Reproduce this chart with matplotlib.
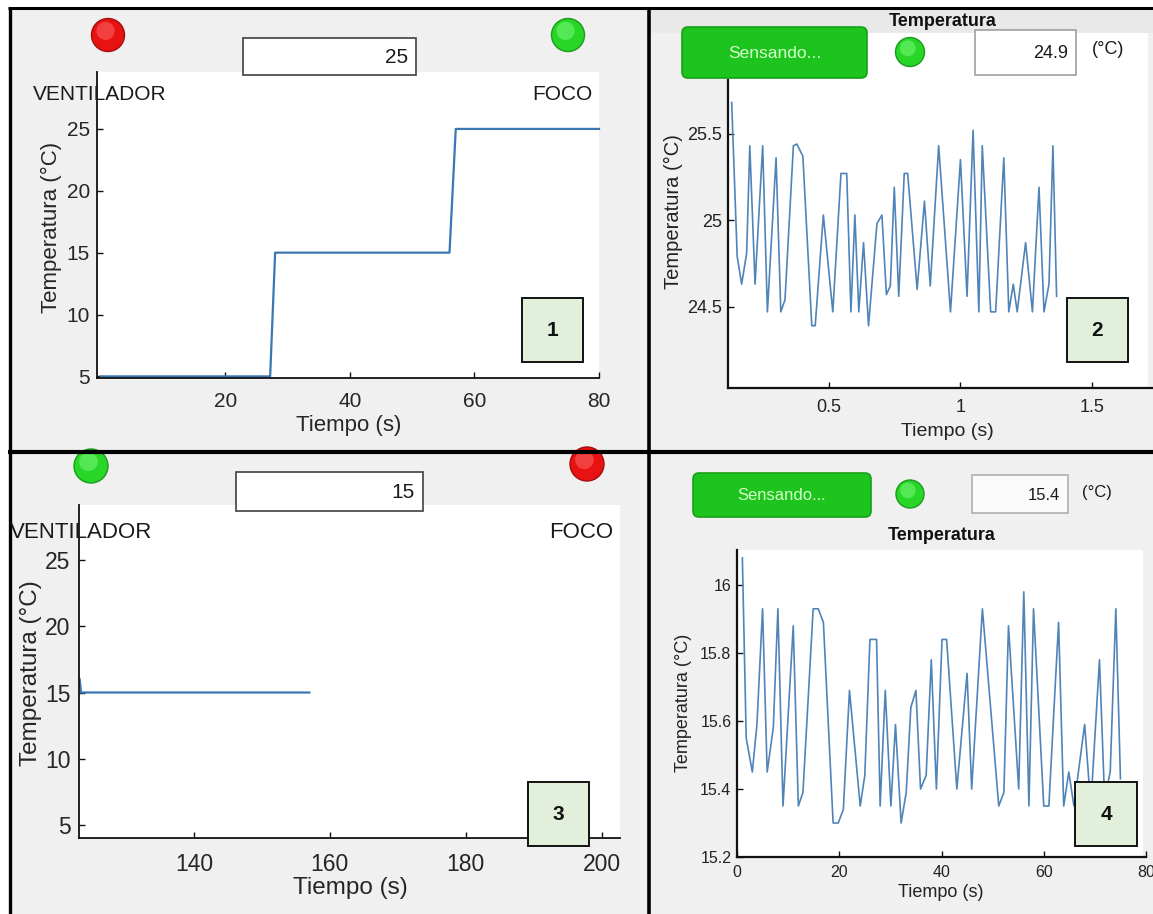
import matplotlib
matplotlib.use("Agg")
import matplotlib.pyplot as plt
from matplotlib.patches import Rectangle, Circle, FancyBboxPatch

plt.rcParams['font.family'] = ['Liberation Sans', 'DejaVu Sans']

# ---------------- data ----------------
# Panel 1: set-point response (VENTILADOR / FOCO)
time1 = [0, 27.2, 28.0, 56.0, 57.0, 80]
temp1 = [5, 5, 15, 15, 25, 25]
xticks1 = [20, 40, 60, 80]
yticks1 = [5, 10, 15, 20, 25]

# Panel 2: sensed temperature around 25 °C
time2 = [0.129, 0.150, 0.167, 0.186, 0.198, 0.218, 0.247, 0.265, 0.298, 0.316,
         0.332, 0.364, 0.377, 0.400, 0.434, 0.447, 0.478, 0.514, 0.545, 0.567,
         0.583, 0.598, 0.613, 0.631, 0.650, 0.682, 0.701, 0.718, 0.733, 0.748,
         0.765, 0.786, 0.799, 0.835, 0.863, 0.885, 0.917, 0.962, 1.000, 1.025,
         1.048, 1.070, 1.083, 1.115, 1.134, 1.165, 1.184, 1.201, 1.216, 1.248,
         1.274, 1.299, 1.318, 1.337, 1.352, 1.366]
temp2 = [25.68, 24.79, 24.63, 24.81, 25.43, 24.63, 25.43, 24.47, 25.36, 24.47,
         24.54, 25.43, 25.44, 25.37, 24.39, 24.39, 25.03, 24.47, 25.27, 25.27,
         24.47, 25.03, 24.47, 24.87, 24.39, 24.98, 25.03, 24.57, 24.62, 25.19,
         24.56, 25.27, 25.27, 24.60, 25.11, 24.62, 25.43, 24.47, 25.35, 24.56,
         25.52, 24.47, 25.43, 24.47, 24.47, 25.36, 24.47, 24.63, 24.47, 24.87,
         24.47, 25.19, 24.47, 24.63, 25.43, 24.56]
xticks2 = [0.5, 1, 1.5]
yticks2 = [24.5, 25, 25.5]

# Panel 3: set-point 15 °C
time3 = [123.2, 123.4, 157.0]
temp3 = [16.0, 15.0, 15.0]
xticks3 = [140, 160, 180, 200]
yticks3 = [5, 10, 15, 20, 25]

# Panel 4: sensed temperature around 15.5 °C
time4 = [1.05, 1.8, 3.0, 3.9, 5.0, 5.9, 7.1, 8.0, 9.0, 11.0, 12.0, 12.9, 14.9,
         15.9, 16.9, 18.8, 19.8, 20.8, 22.0, 24.1, 25.0, 26.0, 27.3, 28.0, 29.0,
         30.1, 31.0, 32.1, 33.1, 34.0, 35.0, 35.9, 37.0, 38.0, 39.0, 40.1, 41.0,
         43.0, 45.0, 45.9, 48.0, 51.2, 52.2, 53.1, 55.1, 56.1, 57.1, 58.0, 60.0,
         61.0, 62.9, 63.9, 64.9, 65.9, 68.0, 69.2, 70.9, 71.9, 73.0, 74.1, 75.0]
temp4 = [16.08, 15.55, 15.45, 15.59, 15.93, 15.45, 15.58, 15.93, 15.35, 15.88,
         15.35, 15.39, 15.93, 15.93, 15.89, 15.30, 15.30, 15.34, 15.69, 15.35,
         15.44, 15.84, 15.84, 15.35, 15.69, 15.35, 15.59, 15.30, 15.39, 15.64,
         15.69, 15.40, 15.44, 15.78, 15.40, 15.84, 15.84, 15.40, 15.74, 15.40,
         15.93, 15.35, 15.39, 15.88, 15.40, 15.98, 15.35, 15.93, 15.35, 15.35,
         15.89, 15.35, 15.45, 15.35, 15.59, 15.35, 15.78, 15.37, 15.45, 15.93,
         15.43]
xticks4 = [0, 20, 40, 60, 80]
yticks4 = [15.2, 15.4, 15.6, 15.8, 16.0]
ytick_labels4 = ['15.2', '15.4', '15.6', '15.8', '16']

display_values = ['25', '24.9', '15', '15.4']

# ---------------- layout helpers ----------------
W, H = 1153, 914
fig = plt.figure(figsize=(W / 100, H / 100), dpi=100)
GRAY = '#f0f0f0'


def rect(x0, y0, x1, y1):
    return [x0 / W, 1 - y1 / H, (x1 - x0) / W, (y1 - y0) / H]


def label_pos(box, px, py):
    x0, y0, x1, y1 = box
    return (px - x0) / (x1 - x0), (y1 - py) / (y1 - y0)


bg = fig.add_axes([0, 0, 1, 1], zorder=0)
bg.set_xlim(0, W)
bg.set_ylim(H, 0)
bg.axis('off')
bg.add_patch(Rectangle((0, 0), W, H, fc='white', ec='none'))
for (x0, y0, x1, y1) in [(10, 9, 649, 452), (649, 9, W, 452),
                         (10, 452, 649, H), (649, 452, W, H)]:
    bg.add_patch(Rectangle((x0, y0), x1 - x0, y1 - y0, fc=GRAY, ec='none'))
bg.add_patch(Rectangle((651, 9), W - 651, 24, fc='#e9e9e9', ec='none'))
bg.add_patch(Rectangle((728, 33), 1148 - 728, 388 - 33, fc='white', ec='none'))
bg.add_patch(Rectangle((737, 550), 1143 - 737, 857 - 550, fc='white', ec='none'))


def style_axes(ax, lw, tick_size, tick_color, padx, pady, ticklen=4):
    for s in ['top', 'right']:
        ax.spines[s].set_visible(False)
    for s in ['left', 'bottom']:
        ax.spines[s].set_linewidth(lw)
        ax.spines[s].set_color('#111111')
    ax.tick_params(direction='in', length=ticklen, width=1, labelsize=tick_size,
                   labelcolor=tick_color, color='#111111')
    ax.tick_params(axis='x', pad=padx)
    ax.tick_params(axis='y', pad=pady)


# ---------------- Panel 1 ----------------
b1 = (97, 72, 599, 378)
ax1 = fig.add_axes(rect(*b1), zorder=1)
ax1.set_facecolor('white')
ax1.plot(time1, temp1, color='#3a78b4', lw=1.6, clip_on=False)
ax1.set_xlim(-0.6, 80)
ax1.set_ylim(4.87, 29.6)
ax1.set_xticks(xticks1)
ax1.set_yticks(yticks1)
style_axes(ax1, 1.3, 15, '#262626', 10, 5)
ax1.set_xlabel('Tiempo (s)', fontsize=16, color='#262626')
ax1.set_ylabel('Temperatura (°C)', fontsize=16, color='#262626')
ax1.xaxis.set_label_coords(*label_pos(b1, 349, 415))
ax1.yaxis.set_label_coords(*label_pos(b1, 62, 227))

# ---------------- Panel 2 ----------------
b2 = (728, 80, W, 388)
ax2 = fig.add_axes(rect(*b2), zorder=1)
ax2.set_facecolor('none')
ax2.plot(time2, temp2, color='#4f84b8', lw=1.2)
ax2.set_xlim(0.115, 1.733)
ax2.set_ylim(24.03, 25.81)
ax2.set_xticks(xticks2)
ax2.set_xticklabels(['0.5', '1', '1.5'])
ax2.set_yticks(yticks2)
ax2.set_yticklabels(['24.5', '25', '25.5'])
style_axes(ax2, 1.6, 13, '#222222', 8, 4)
ax2.set_xlabel('Tiempo (s)', fontsize=14, color='#222222')
ax2.set_ylabel('Temperatura (°C)', fontsize=14.5, color='#222222')
ax2.xaxis.set_label_coords(*label_pos(b2, 947, 423))
ax2.yaxis.set_label_coords(*label_pos(b2, 683, 212))

# ---------------- Panel 3 ----------------
b3 = (79, 505, 620, 838)
ax3 = fig.add_axes(rect(*b3), zorder=1)
ax3.set_facecolor('white')
ax3.plot(time3, temp3, color='#3a78b4', lw=1.6)
ax3.set_xlim(123.1, 202.7)
ax3.set_ylim(4.02, 29.15)
ax3.set_xticks(xticks3)
ax3.set_yticks(yticks3)
style_axes(ax3, 1.3, 16.5, '#262626', 11, 6)
ax3.set_xlabel('Tiempo (s)', fontsize=17.5, color='#262626')
ax3.set_ylabel('Temperatura (°C)', fontsize=17.5, color='#262626')
ax3.xaxis.set_label_coords(*label_pos(b3, 350, 877))
ax3.yaxis.set_label_coords(*label_pos(b3, 42, 673))

# ---------------- Panel 4 ----------------
b4 = (737, 550, 1146, 857)
ax4 = fig.add_axes(rect(*b4), zorder=1)
ax4.set_facecolor('none')
ax4.plot(time4, temp4, color='#4f84b8', lw=1.2)
ax4.set_xlim(0, 80)
ax4.set_ylim(15.2, 16.103)
ax4.set_xticks(xticks4)
ax4.set_yticks(yticks4)
ax4.set_yticklabels(ytick_labels4)
style_axes(ax4, 1.6, 11.5, '#222222', 6, 4)
ax4.set_xlabel('Tiempo (s)', fontsize=13, color='#222222')
ax4.set_ylabel('Temperatura (°C)', fontsize=13, color='#222222')
ax4.xaxis.set_label_coords(*label_pos(b4, 941, 884))
ax4.yaxis.set_label_coords(*label_pos(b4, 692, 703))
ax4.set_title('Temperatura', fontsize=13, fontweight='bold', color='#111111', pad=7)

# ---------------- overlay (UI widgets) ----------------
ov = fig.add_axes([0, 0, 1, 1], zorder=5)
ov.set_xlim(0, W)
ov.set_ylim(H, 0)
ov.axis('off')
ov.patch.set_alpha(0)


def led(x, y, r, color, edge, hi):
    ov.add_patch(Circle((x, y), r, fc=color, ec=edge, lw=1.0))
    ov.add_patch(Circle((x - r * 0.15, y - r * 0.25), r * 0.55, fc=hi, ec='none', alpha=0.45))


def value_box(x0, y0, x1, y1, txt, size, ec, fc='white'):
    ov.add_patch(Rectangle((x0, y0), x1 - x0, y1 - y0, fc=fc, ec=ec, lw=1.2))
    ov.text(x1 - 8, (y0 + y1) / 2 + 1, txt, ha='right', va='center', fontsize=size,
            color='#1a1a1a')


def num_box(x0, y0, x1, y1, txt):
    ov.add_patch(Rectangle((x0, y0), x1 - x0, y1 - y0, fc='#e2efda', ec='#111111', lw=1.4))
    ov.text((x0 + x1) / 2, (y0 + y1) / 2 + 1, txt, ha='center', va='center',
            fontsize=15, fontweight='bold', color='#111111')


def button(x0, y0, x1, y1, size):
    ov.add_patch(FancyBboxPatch((x0, y0), x1 - x0, y1 - y0,
                                boxstyle='round,pad=0,rounding_size=6',
                                fc='#1ec41e', ec='#16a016', lw=1.2))
    ov.text((x0 + x1) / 2, (y0 + y1) / 2 + 1, 'Sensando...', ha='center', va='center',
            fontsize=size, color='#d2ffc6')


# panel 1 widgets
led(108, 35, 16.5, '#e81212', '#a30d0d', '#ff7a7a')
led(568, 35, 16.5, '#27d627', '#1c9c1c', '#8dff8d')
value_box(243, 38, 416, 75, display_values[0], 15, '#404040')
ov.text(33, 95, 'VENTILADOR', ha='left', va='center', fontsize=15, color='#1a1a1a')
ov.text(593, 95, 'FOCO', ha='right', va='center', fontsize=15, color='#1a1a1a')
num_box(522, 298, 583, 362, '1')

# panel 2 widgets
ov.text(943, 21, 'Temperatura', ha='center', va='center', fontsize=13,
        fontweight='bold', color='#111111')
button(682, 27, 867, 78, 12.5)
led(910, 52, 14.5, '#27d627', '#1c9c1c', '#8dff8d')
value_box(975, 30, 1076, 75, display_values[1], 13, '#a0a0a0')
ov.text(1108, 49, '(°C)', ha='center', va='center', fontsize=13, color='#1a1a1a')
num_box(1067, 298, 1128, 362, '2')

# panel 3 widgets
led(91, 466, 17, '#27d627', '#1c9c1c', '#8dff8d')
led(587, 464, 17, '#e81212', '#a30d0d', '#ff7a7a')
value_box(236, 472, 423, 511, display_values[2], 15, '#404040')
ov.text(10, 532, 'VENTILADOR', ha='left', va='center', fontsize=16, color='#1a1a1a')
ov.text(613, 532, 'FOCO', ha='right', va='center', fontsize=16, color='#1a1a1a')
num_box(528, 782, 589, 846, '3')

# panel 4 widgets
button(693, 473, 871, 517, 12)
led(910, 494, 14, '#27d627', '#1c9c1c', '#8dff8d')
value_box(972, 475, 1068, 513, display_values[3], 12, '#b0b0b0', fc='#fafafa')
ov.text(1097, 492, '(°C)', ha='center', va='center', fontsize=12, color='#1a1a1a')
num_box(1075, 782, 1137, 846, '4')

# frame lines
ov.plot([9.5, 9.5], [7, H], color='black', lw=2.4, solid_capstyle='butt')
ov.plot([8, W], [8.0, 8.0], color='black', lw=2.2, solid_capstyle='butt')
ov.plot([649, 649], [7, H], color='black', lw=2.6, solid_capstyle='butt')
ov.plot([8, W], [452, 452], color='black', lw=3.0, solid_capstyle='butt')

fig.savefig('out.png', dpi=100)
